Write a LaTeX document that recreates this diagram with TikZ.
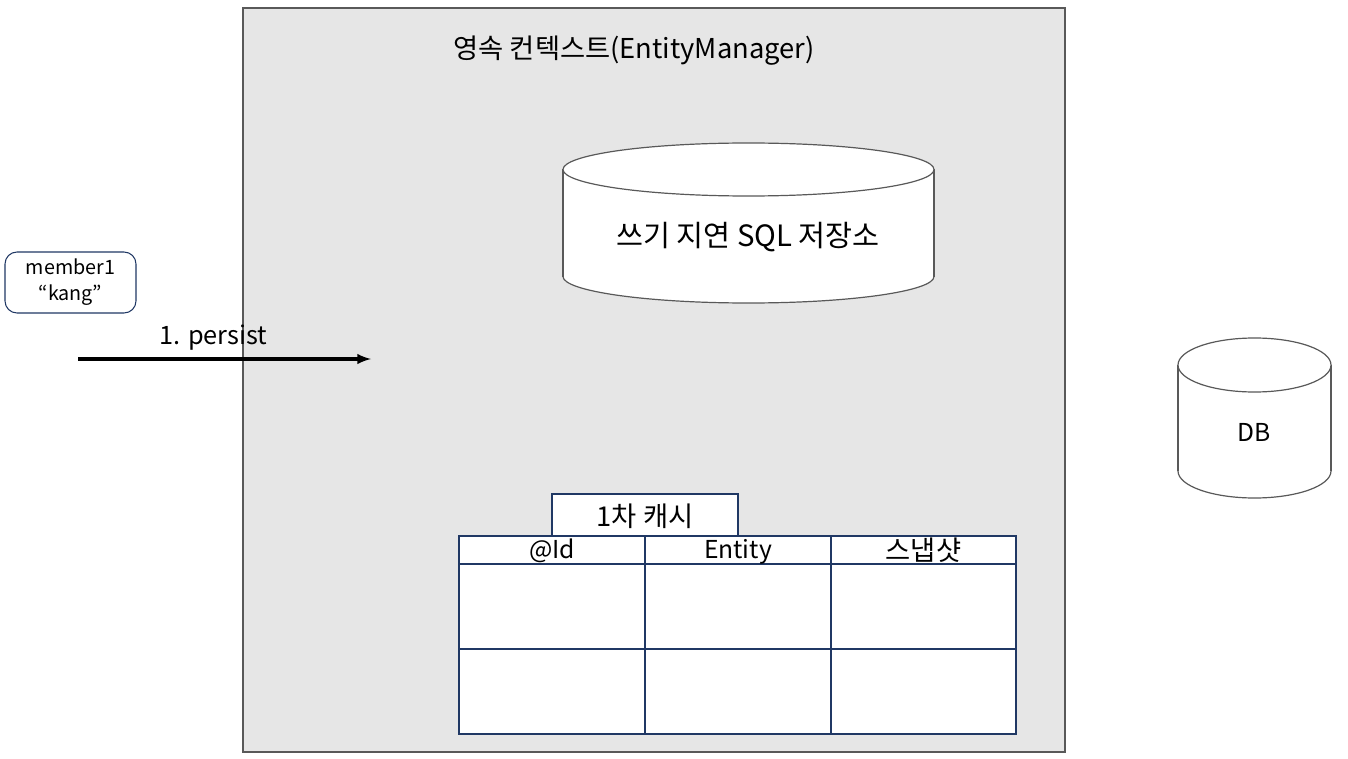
\documentclass[tikz,border=0pt]{standalone}
\usepackage{fontspec}
\setmainfont{Noto Sans CJK KR}
\usepackage{xcolor}
\usetikzlibrary{positioning}

\definecolor{ctxgray}{RGB}{230,230,230}
\definecolor{ctxline}{RGB}{89,89,89}
\definecolor{navyline}{RGB}{32,56,100}

% cylinder: centre x, top ellipse y, bottom ellipse y, x radius, y radius
\newcommand{\storecyl}[5]{%
  \fill[white, draw=ctxline, line width=0.9pt] (#1,#3) ellipse [x radius=#4, y radius=#5];
  \fill[white] (#1-#4,#2) rectangle (#1+#4,#3);
  \draw[ctxline, line width=0.9pt] (#1-#4,#2) -- (#1-#4,#3);
  \draw[ctxline, line width=0.9pt] (#1+#4,#2) -- (#1+#4,#3);
  \fill[white, draw=ctxline, line width=0.9pt] (#1,#2) ellipse [x radius=#4, y radius=#5];
}

\tikzset{
  label text/.style={inner sep=0pt, font=\fontsize{18.5}{22}\selectfont},
  hangul text/.style={inner sep=0pt, font=\fontsize{20.5}{24}\selectfont},
}

\begin{document}
\begin{tikzpicture}[x=0.75pt, y=-0.75pt]
  \useasboundingbox (0,0) rectangle (1348,759);
  \fill[white] (0,0) rectangle (1348,759);

  % persistence context
  \draw[ctxline, fill=ctxgray, line width=0.8pt] (243,8) rectangle (1065,752);
  \node[label text, font=\fontsize{20.5}{24}\selectfont] (ctx) at (634,51) {영속 컨텍스트(EntityManager)};

  % write-behind SQL store
  \storecyl{748.5}{169.5}{276.5}{185.5}{26.5}
  \node[label text, font=\fontsize{22}{26}\selectfont] (sqlstore) at (748,237) {쓰기 지연 SQL 저장소};

  % database
  \storecyl{1254.5}{365}{471}{76.5}{27}
  \node[label text] (db) at (1254,432) {DB};

  % member entity
  \node[draw=navyline, rounded corners=9, line width=0.8pt, minimum width=131*0.75pt, minimum height=61*0.75pt,
        align=center, inner sep=0pt, font=\fontsize{14.8}{19.5}\selectfont] (member) at (70.5,282.5) {member1\\“kang”};

  % persist call
  \coordinate (pstart) at (78,359);
  \coordinate (pend) at (371,359);
  \draw[-latex, line width=2.5pt] (pstart) -- (pend);
  \node[label text, font=\fontsize{19}{22}\selectfont] (persist) at (213.5,338) {1. persist};

  % first-level cache
  \node[draw=navyline, line width=0.8pt, fill=white, minimum width=186*0.75pt, minimum height=42*0.75pt,
        inner sep=0pt] (cachetab) at (645,515) {};
  \node[hangul text] (cachelbl) at (645,516) {1차 캐시};
  \node[draw=navyline, line width=0.8pt, fill=white, minimum width=557*0.75pt, minimum height=198*0.75pt,
        inner sep=0pt] (cache) at (737.5,635) {};
  \draw[navyline, line width=0.8pt] (645,536) -- (645,734);
  \draw[navyline, line width=0.8pt] (831,536) -- (831,734);
  \draw[navyline, line width=0.8pt] (459,564) -- (1016,564);
  \draw[navyline, line width=0.8pt] (459,649) -- (1016,649);
  \node[label text] (colid) at (552,551) {@Id};
  \node[label text] (colentity) at (738,552) {Entity};
  \node[hangul text] (colsnap) at (923.5,550) {스냅샷};
\end{tikzpicture}
\end{document}
